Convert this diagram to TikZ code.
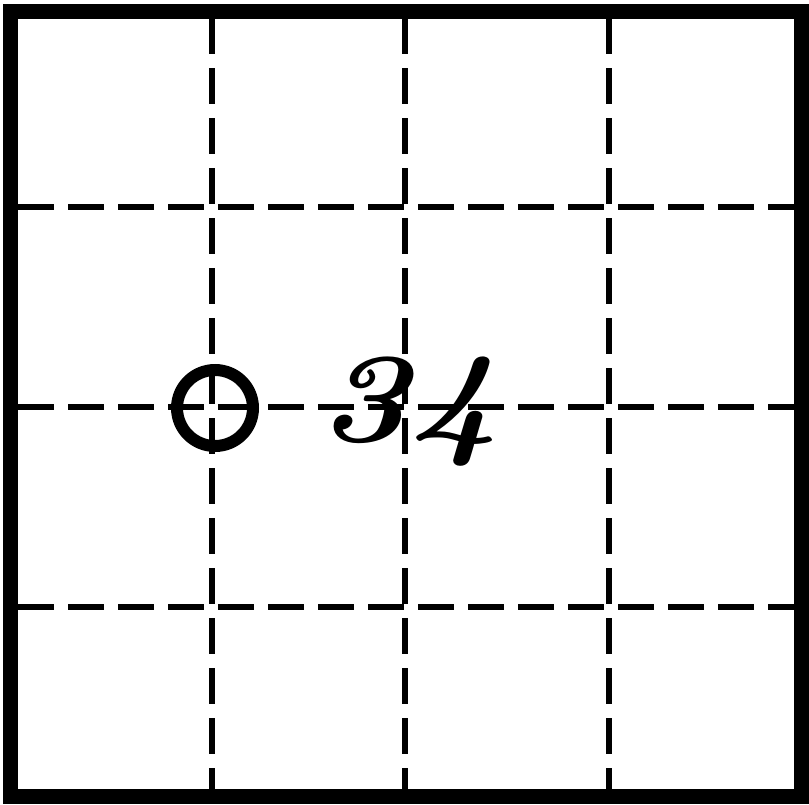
\documentclass[tikz,border=0pt]{standalone}
\tikzset{
  gridline/.style={line width=6pt, dash pattern=on 36pt off 14pt, black},
  frame/.style={line width=15pt, black},
  ring/.style={circle, draw, line width=12pt, minimum size=76pt, inner sep=0pt},
  label/.style={font=\fontsize{128}{128}\selectfont\bfseries\itshape, inner sep=0pt, xscale=1.2}
}
\begin{document}
\begin{tikzpicture}[x=1pt,y=-1pt]
\useasboundingbox (0,0) rectangle (809,804);
\coordinate (tl) at (10,11);
\coordinate (br) at (801,796);
\foreach \x in {212,405,609} {
  \draw[gridline] (\x,18) -- (\x,789);
}
\foreach \y in {207,407,607} {
  \draw[gridline] (18,\y) -- (794,\y);
}
\draw[frame] (tl) rectangle (br);
\node[ring] (c) at (215,408) {};
\node[label] (t) at (408,412) {34};
\end{tikzpicture}
\end{document}
